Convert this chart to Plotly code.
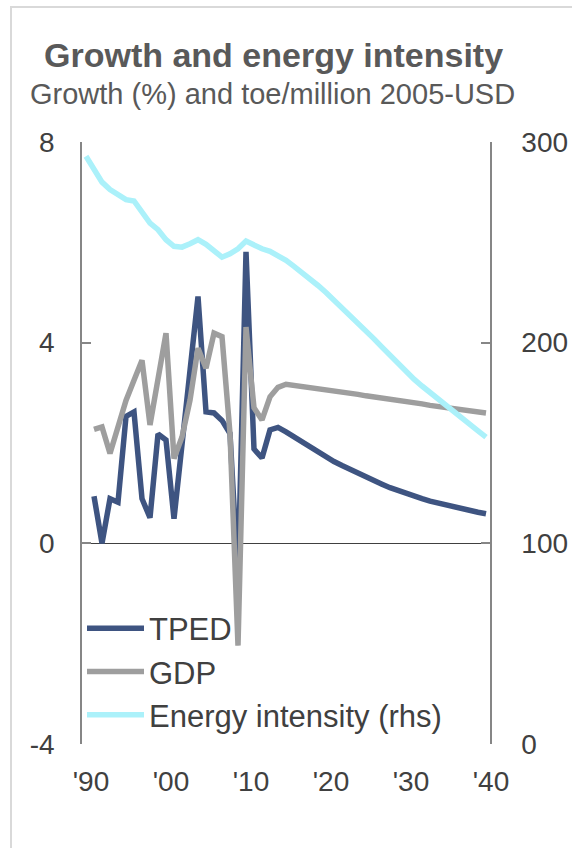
import plotly.graph_objects as go

years_growth = list(range(1991, 2041))
years_ei = list(range(1990, 2041))

tped = [0.94, 0.0, 0.89, 0.82, 2.53, 2.62, 0.89, 0.51, 2.18, 2.06,
        0.49, 1.9, 3.4, 4.92, 2.62, 2.6, 2.45, 2.19, -0.7, 5.81,
        1.88, 1.70, 2.26, 2.31, 2.22, 2.12, 2.0, 1.9, 1.81, 1.72,
        1.63, 1.55, 1.47, 1.39, 1.32, 1.25, 1.18, 1.11, 1.05, 0.99,
        0.94, 0.89, 0.84, 0.80, 0.76, 0.72, 0.69, 0.65, 0.62, 0.59]

gdp = [2.27, 2.32, 1.79, 2.35, 2.85, 3.25, 3.65, 2.36, 3.28, 4.19,
       1.69, 2.12, 2.85, 3.89, 3.49, 4.19, 4.12, 2.19, -2.04, 4.31,
       2.70, 2.46, 2.92, 3.11, 3.17, 3.15, 3.13, 3.11, 3.09, 3.07,
       3.04, 3.02, 2.99, 2.97, 2.94, 2.92, 2.89, 2.87, 2.84, 2.82,
       2.80, 2.78, 2.75, 2.73, 2.71, 2.69, 2.67, 2.64, 2.62, 2.60]

energy_intensity = [292.9, 286.7, 280.0, 276.3, 273.4, 271.3, 270.6, 264.6, 259.6, 256.3,
                    251.3, 248.0, 247.6, 249.3, 251.3, 249.0, 246.0, 242.6, 244.3, 246.8,
                    250.6, 248.5, 246.8, 245.5, 243.5, 241.0, 238.0, 235.0, 231.5, 228.5,
                    225.0, 221.3, 217.4, 213.6, 209.8, 206.0, 201.9, 197.8, 193.6, 189.5,
                    185.3, 181.8, 178.4, 175.1, 171.9, 168.7, 165.5, 162.3, 159.2, 156.0,
                    152.9]

tick_years = [1990, 2000, 2010, 2020, 2030, 2040]
tick_labels = ["'90", "'00", "'10", "'20", "'30", "'40"]
left_ticks = [-4, 0, 4, 8]
left_labels = ["-4", "0", "4", "8"]
right_ticks = [0, 100, 200, 300]

FONT = "Liberation Sans, Arial, sans-serif"
TXT = "#404040"
AX = "#868686"

# plot area in page px
L, T, W, H = 82, 142, 408, 602


def px(xs):
    return (xs - L) / W


def py(ys):
    return (T + H - ys) / H


fig = go.Figure()
fig.add_trace(go.Scatter(x=years_growth, y=tped, name="TPED", mode="lines",
                         line=dict(color="#3E5481", width=5.5)))
fig.add_trace(go.Scatter(x=years_growth, y=gdp, name="GDP", mode="lines",
                         line=dict(color="#9E9E9E", width=5.5)))
fig.add_trace(go.Scatter(x=years_ei, y=energy_intensity, name="Energy intensity (rhs)",
                         mode="lines", yaxis="y2",
                         line=dict(color="#ABF1FA", width=5.5)))

fig.update_layout(
    width=572, height=848,
    margin=dict(l=L, r=572 - L - W, t=T, b=848 - T - H, autoexpand=False),
    paper_bgcolor="white", plot_bgcolor="white",
    font=dict(family=FONT, color=TXT, size=28),
    showlegend=True,
    legend=dict(x=0.0, y=py(601.5), xanchor="left", yanchor="top",
                font=dict(size=31, color=TXT), bgcolor="rgba(0,0,0,0)",
                tracegroupgap=0, itemwidth=57),
    xaxis=dict(range=[1989.5, 2040.5], tickvals=tick_years, ticktext=tick_labels,
               showgrid=False, zeroline=False, showline=False, ticks="",
               tickfont=dict(size=28, color=TXT), ticklabelshift=5,
               ticklabelstandoff=18, automargin=False),
    yaxis=dict(range=[-4, 8], tickvals=left_ticks, ticktext=left_labels,
               showgrid=False,
               zeroline=True, zerolinecolor="#404040", zerolinewidth=1.2,
               showline=True, linecolor=AX, linewidth=1.5,
               ticks="inside", ticklen=9, tickcolor=AX, tickwidth=1.5,
               tickfont=dict(size=28, color=TXT), ticklabelstandoff=20,
               automargin=False),
    yaxis2=dict(range=[0, 300], tickvals=right_ticks, overlaying="y",
                side="right", showgrid=False, zeroline=False,
                showline=True, linecolor=AX, linewidth=1.5,
                ticks="inside", ticklen=9, tickcolor=AX, tickwidth=1.5,
                tickfont=dict(size=28, color=TXT), ticklabelstandoff=24,
                automargin=False),
    annotations=[
        dict(text="<b>Growth and energy intensity</b>", xref="paper", yref="paper",
             x=px(273.5), y=py(55), xanchor="center", yanchor="middle",
             showarrow=False, font=dict(size=34, color="#595959", family=FONT)),
        dict(text="Growth (%) and toe/million 2005-USD", xref="paper", yref="paper",
             x=px(272.5), y=py(94), xanchor="center", yanchor="middle",
             showarrow=False, font=dict(size=29, color="#595959", family=FONT)),
    ],
    shapes=[
        dict(type="rect", xref="paper", yref="paper",
             x0=px(11), x1=px(640), y0=py(900), y1=py(7),
             line=dict(color="#D9D9D9", width=2), fillcolor="rgba(0,0,0,0)",
             layer="below"),
    ],
)

fig.write_html("out.html",
               config={"displayModeBar": False},
               post_script="document.body.style.margin='0';"
                           "document.body.style.overflow='hidden';")
